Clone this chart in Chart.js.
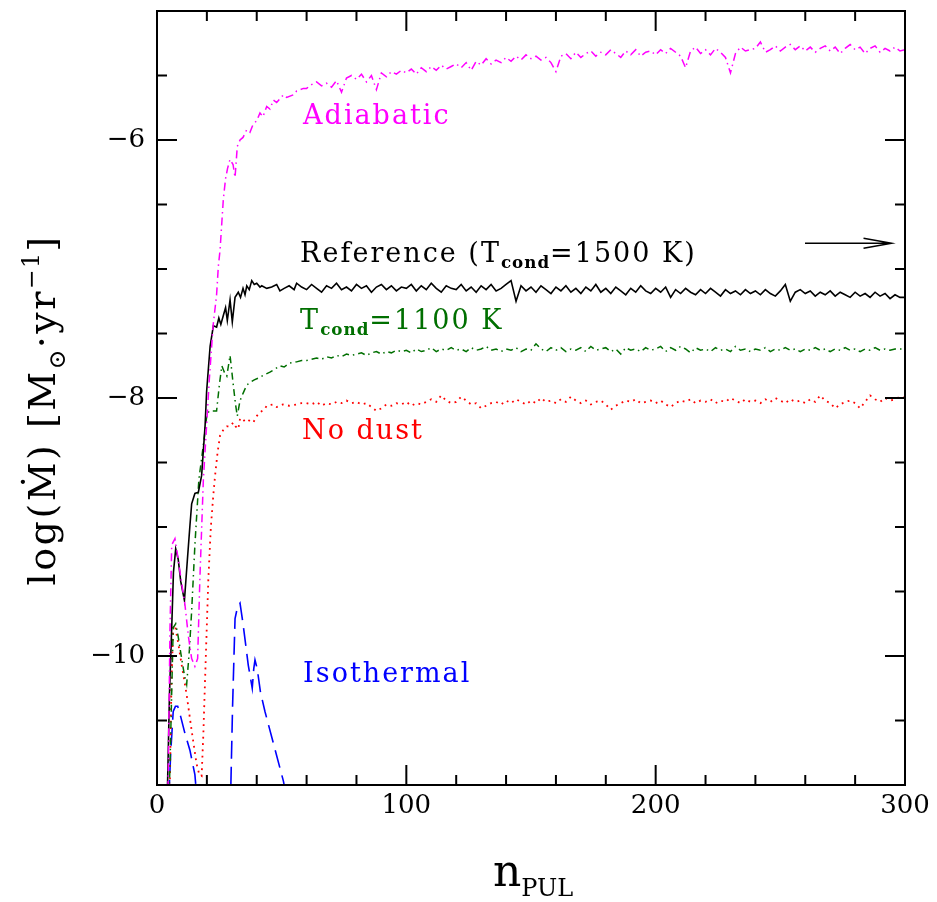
<!DOCTYPE html>
<html>
<head>
<meta charset="utf-8">
<script src="https://cdn.jsdelivr.net/npm/chart.js@4.4.1/dist/chart.umd.min.js"></script>
<style>
  body { margin: 0; background: #fff; }
  #wrap { width: 937px; height: 902px; }
</style>
</head>
<body>
<div id="wrap"><canvas id="massLoss" width="937" height="902"></canvas></div>
<script>
// early pulsations, read per curve
const refEarlyX = [4.0, 5.0, 5.9, 6.6, 7.5, 8.5, 9.5, 11.0, 12.2, 13.2, 13.9, 15.2, 16.6, 17.9, 19.3, 19.9, 21.3, 22.6, 23.9, 24.8, 25.6, 26.6, 27.5, 28.2, 29.3, 30.2, 31.3, 32.6, 33.5, 34.5, 35.3, 36, 37, 38, 39, 40, 41.3, 42, 44, 46, 48, 49.3, 51, 53, 55, 56, 58];
const refEarlyY = [-11.2, -10.3, -9.78, -9.35, -9.17, -9.25, -9.42, -9.57, -9.25, -8.99, -8.82, -8.74, -8.73, -8.6, -8.21, -7.95, -7.6, -7.44, -7.45, -7.38, -7.43, -7.36, -7.30, -7.40, -7.24, -7.41, -7.22, -7.18, -7.22, -7.15, -7.20, -7.13, -7.16, -7.09, -7.12, -7.11, -7.14, -7.13, -7.15, -7.14, -7.12, -7.17, -7.15, -7.13, -7.16, -7.11, -7.14];

const adiEarlyX = [4.0, 4.5, 5.2, 5.9, 7.2, 8.5, 10.0, 11.2, 12.6, 13.9, 15.2, 16.3, 17.2, 18.6, 19.9, 21.0, 22.5, 23.9, 24.6, 25.3, 26.6, 27.5, 28.3, 29.3, 30.5, 31.3, 32.2, 33.3, 34.5, 36, 37.3, 38.5, 40, 41.3, 42.5, 44, 45.3, 46.7, 48, 50.7, 52, 54.7, 56, 58.7];
const adiEarlyY = [-11.3, -10.94, -9.8, -9.14, -9.09, -9.25, -9.45, -9.6, -9.85, -10.02, -10.08, -10.02, -9.40, -8.63, -8.21, -7.85, -7.44, -7.2, -6.98, -6.85, -6.46, -6.30, -6.22, -6.15, -6.19, -6.29, -6.05, -6.0, -5.98, -5.92, -5.94, -5.88, -5.85, -5.79, -5.82, -5.74, -5.76, -5.69, -5.71, -5.65, -5.67, -5.65, -5.62, -5.60];

const condEarlyX = [4.6, 5.2, 6.5, 7.5, 8.5, 9.9, 11.0, 11.9, 13.0, 13.9, 15.2, 16.8, 17.9, 19.0, 20.0, 21.0, 22.5, 23.9, 25.0, 26, 27, 28, 29.3, 30.6, 31.5, 32.2, 33.3, 34.6, 36, 37.3, 39, 41.3, 43, 45.3, 47, 49.3, 51, 53, 56, 58];
const condEarlyY = [-11.2, -10.86, -9.78, -9.75, -9.85, -10.02, -10.15, -10.22, -9.95, -9.65, -9.14, -8.63, -8.47, -8.30, -8.13, -8.10, -8.10, -8.10, -7.90, -7.75, -7.80, -7.83, -7.67, -7.90, -8.05, -8.14, -8.02, -7.96, -7.90, -7.88, -7.86, -7.84, -7.82, -7.80, -7.78, -7.75, -7.76, -7.73, -7.72, -7.71];

const dustEarlyX = [5.0, 5.8, 6.5, 7.2, 8.5, 9.9, 11.9, 13.9, 15.9, 17.0, 17.9, 18.6, 19.3, 20.6, 21.6, 22.6, 23.3, 24.3, 25.3, 26.5, 28, 29.3, 30.6, 31.5, 32.6, 33.3, 34.5, 36, 37.3, 38.6, 40, 41.3, 43, 44, 46.7, 48, 50.5, 53, 56, 58];
const dustEarlyY = [-11.2, -10.2, -9.78, -9.76, -9.9, -10.07, -10.30, -10.58, -10.84, -10.92, -10.93, -10.6, -10.17, -9.40, -9.0, -8.75, -8.60, -8.42, -8.29, -8.25, -8.22, -8.22, -8.19, -8.22, -8.24, -8.16, -8.18, -8.16, -8.18, -8.19, -8.14, -8.11, -8.09, -8.06, -8.05, -8.07, -8.05, -8.06, -8.05, -8.04];

// isothermal never leaves the bottom for long; null = gap below the frame
const isoX = [4.3, 5.5, 6.5, 7.4, 8.3, 9.5, 11.2, 13.2, 15.2, 16.0, 20, 29.4, 30.3, 31.3, 32.3, 33.3, 34.5, 36.6, 38.2, 38.8, 39.3, 40.2, 41.5, 43.3, 47, 50.7, 52];
const isoY = [-11.3, -10.75, -10.43, -10.39, -10.39, -10.47, -10.6, -10.73, -10.92, -11.1, null, -11.2, -10.4, -9.71, -9.62, -9.59, -9.75, -10.07, -10.25, -10.1, -10.03, -10.1, -10.28, -10.43, -10.7, -10.97, -11.1];

// saturated part, one value every second pulsation
const nFlat = [60, 62, 64, 66, 68, 70, 72, 74, 76, 78, 80, 82, 84, 86, 88, 90, 92, 94, 96, 98,
  100, 102, 104, 106, 108, 110, 112, 114, 116, 118, 120, 122, 124, 126, 128, 130, 132, 134, 136, 138,
  140, 142, 144, 146, 148, 150, 152, 154, 156, 158, 160, 162, 164, 166, 168, 170, 172, 174, 176, 178,
  180, 182, 184, 186, 188, 190, 192, 194, 196, 198, 200, 202, 204, 206, 208, 210, 212, 214, 216, 218,
  220, 222, 224, 226, 228, 230, 232, 234, 236, 238, 240, 242, 244, 246, 248, 250, 252, 254, 256, 258,
  260, 262, 264, 266, 268, 270, 272, 274, 276, 278, 280, 282, 284, 286, 288, 290, 292, 294, 296, 298, 300];

const refFlat = [-7.16, -7.12, -7.15, -7.18, -7.13, -7.15, -7.11, -7.16, -7.14, -7.17,
  -7.12, -7.15, -7.13, -7.18, -7.14, -7.12, -7.16, -7.13, -7.17, -7.14,
  -7.15, -7.12, -7.17, -7.13, -7.16, -7.11, -7.15, -7.18, -7.13, -7.15,
  -7.16, -7.12, -7.17, -7.14, -7.18, -7.13, -7.16, -7.12, -7.17, -7.15,
  -7.12, -7.09, -7.25, -7.13, -7.17, -7.14, -7.18, -7.13, -7.16, -7.19,
  -7.14, -7.17, -7.13, -7.18, -7.15, -7.19, -7.14, -7.17, -7.12, -7.18,
  -7.15, -7.19, -7.14, -7.17, -7.20, -7.15, -7.18, -7.13, -7.17, -7.19,
  -7.15, -7.18, -7.14, -7.22, -7.16, -7.19, -7.15, -7.18, -7.20, -7.16,
  -7.19, -7.15, -7.18, -7.21, -7.16, -7.19, -7.17, -7.20, -7.16, -7.19,
  -7.17, -7.20, -7.16, -7.19, -7.21, -7.17, -7.12, -7.25, -7.18, -7.16,
  -7.19, -7.17, -7.21, -7.18, -7.20, -7.17, -7.21, -7.18, -7.20, -7.22,
  -7.18, -7.21, -7.19, -7.22, -7.18, -7.21, -7.19, -7.23, -7.20, -7.22, -7.22];

const adiFlat = [-5.60, -5.57, -5.55, -5.58, -5.56, -5.59, -5.54, -5.63, -5.52, -5.50,
  -5.53, -5.49, -5.55, -5.50, -5.61, -5.48, -5.51, -5.47, -5.49, -5.46,
  -5.48, -5.45, -5.49, -5.44, -5.47, -5.43, -5.46, -5.42, -5.45, -5.43,
  -5.41, -5.44, -5.40, -5.46, -5.39, -5.42, -5.37, -5.41, -5.38, -5.40,
  -5.36, -5.39, -5.35, -5.38, -5.34, -5.37, -5.35, -5.38, -5.36, -5.40,
  -5.47, -5.35, -5.33, -5.37, -5.32, -5.36, -5.33, -5.31, -5.35, -5.32,
  -5.34, -5.30, -5.33, -5.36, -5.31, -5.34, -5.30, -5.35, -5.32, -5.31,
  -5.34, -5.30, -5.33, -5.29, -5.32, -5.35, -5.44, -5.31, -5.28, -5.33,
  -5.30, -5.34, -5.29, -5.32, -5.36, -5.48, -5.33, -5.28, -5.31, -5.30,
  -5.29, -5.24, -5.32, -5.30, -5.27, -5.31, -5.28, -5.26, -5.30, -5.27,
  -5.31, -5.28, -5.32, -5.29, -5.27, -5.31, -5.28, -5.33, -5.29, -5.26,
  -5.30, -5.28, -5.33, -5.29, -5.27, -5.32, -5.29, -5.31, -5.28, -5.31, -5.30];

const condFlat = [-7.71, -7.70, -7.69, -7.70, -7.68, -7.69, -7.67, -7.68, -7.66, -7.67,
  -7.66, -7.65, -7.67, -7.65, -7.64, -7.66, -7.64, -7.65, -7.63, -7.64,
  -7.63, -7.65, -7.62, -7.64, -7.63, -7.61, -7.64, -7.62, -7.63, -7.61,
  -7.63, -7.62, -7.64, -7.61, -7.63, -7.62, -7.60, -7.63, -7.62, -7.64,
  -7.62, -7.63, -7.61, -7.64, -7.62, -7.63, -7.58, -7.62, -7.64, -7.61,
  -7.63, -7.61, -7.64, -7.62, -7.63, -7.61, -7.64, -7.60, -7.63, -7.62,
  -7.61, -7.64, -7.62, -7.66, -7.61, -7.63, -7.62, -7.64, -7.61, -7.63,
  -7.62, -7.60, -7.64, -7.61, -7.63, -7.60, -7.62, -7.65, -7.61, -7.63,
  -7.62, -7.64, -7.61, -7.63, -7.62, -7.64, -7.60, -7.63, -7.62, -7.64,
  -7.62, -7.63, -7.61, -7.64, -7.62, -7.63, -7.61, -7.63, -7.62, -7.64,
  -7.62, -7.63, -7.61, -7.63, -7.62, -7.64, -7.62, -7.63, -7.61, -7.63,
  -7.62, -7.64, -7.62, -7.63, -7.61, -7.63, -7.62, -7.63, -7.62, -7.62, -7.62];

const dustFlat = [-8.04, -8.05, -8.03, -8.06, -8.04, -8.05, -8.03, -8.04, -8.02, -8.04,
  -8.03, -8.05, -8.04, -8.07, -8.10, -8.08, -8.05, -8.06, -8.04, -8.05,
  -8.03, -8.06, -8.04, -8.05, -8.03, -8.01, -8.03, -7.98, -8.02, -8.04,
  -8.03, -7.99, -8.02, -8.05, -8.04, -8.08, -8.06, -8.04, -8.03, -8.05,
  -8.02, -8.04, -8.01, -8.03, -8.05, -8.02, -8.04, -8.00, -8.03, -8.02,
  -8.04, -8.01, -8.03, -7.99, -8.02, -8.04, -8.02, -8.05, -8.03, -8.02,
  -8.05, -8.09, -8.06, -8.04, -8.02, -8.03, -8.01, -8.04, -8.03, -8.02,
  -8.04, -8.02, -8.05, -8.07, -8.04, -8.02, -8.03, -8.01, -8.04, -8.02,
  -8.03, -8.01, -8.04, -8.02, -8.03, -8.00, -8.02, -8.04, -8.01, -8.03,
  -8.02, -8.04, -8.01, -8.03, -8.00, -8.02, -8.04, -8.01, -8.03, -8.02,
  -8.04, -8.01, -8.03, -7.98, -8.02, -8.04, -8.08, -8.05, -8.03, -8.02,
  -8.04, -8.08, -8.03, -7.98, -8.01, -8.03, -8.00, -8.02, -8.01, -7.99, -8.00];

const xTickLabels = [0, 100, 200, 300];
const yTickLabels = [-10, -8, -6];

// curve labels, anchored in data units
const curveLabels = [
  { x: 58.6, y: -5.82, color: "#ff00ff", parts: [["Adiabatic"]] },
  { x: 57.4, y: -6.89, color: "#000000", parts: [["Reference (T"], ["cond", "sub"], ["=1500 K)"]] },
  { x: 57.4, y: -7.41, color: "#006f00", parts: [["T"], ["cond", "sub"], ["=1100 K"]] },
  { x: 58.2, y: -8.26, color: "#ff0000", parts: [["No dust"]] },
  { x: 58.6, y: -10.15, color: "#0000ff", parts: [["Isothermal"]] }
];
const arrowX = [259.9, 294.6];
const arrowY = -6.8;

function pts(xs, ys) {
  return xs.map((x, i) => ({ x: x, y: ys[i] }));
}

const SERIF = "'DejaVu Serif', 'Liberation Serif', serif";
const LABEL_SIZE = 27;

function drawRich(ctx, parts, x, y, size, spacing) {
  let cx = x;
  parts.forEach(p => {
    let s = size, dy = 0, weight = "";
    if (p[1] === "sub") { s = size * 0.62; dy = size * 0.32; weight = "bold "; }
    if (p[1] === "subn") { s = size * 0.62; dy = size * 0.25; }
    if (p[1] === "sup") { s = size * 0.62; dy = -size * 0.42; }
    ctx.font = weight + s + "px " + SERIF;
    ctx.letterSpacing = (p[1] ? spacing * 0.5 : spacing) + "px";
    ctx.fillText(p[0], cx, y + dy);
    cx += ctx.measureText(p[0]).width;
  });
  ctx.letterSpacing = "0px";
  return cx - x;
}

function richWidth(ctx, parts, size, spacing) {
  let w = 0;
  parts.forEach(p => {
    const s = p[1] ? size * 0.62 : size;
    ctx.font = (p[1] === "sub" ? "bold " : "") + s + "px " + SERIF;
    ctx.letterSpacing = (p[1] ? spacing * 0.5 : spacing) + "px";
    w += ctx.measureText(p[0]).width;
  });
  ctx.letterSpacing = "0px";
  return w;
}

const framePlugin = {
  id: "frame",
  afterDraw(chart) {
    const ctx = chart.ctx;
    const xs = chart.scales.x, ys = chart.scales.y;
    const a = chart.chartArea;
    ctx.save();
    ctx.strokeStyle = "#000";
    ctx.lineWidth = 2;
    ctx.strokeRect(a.left, a.top, a.right - a.left, a.bottom - a.top);

    // inward ticks on all four sides
    ctx.beginPath();
    for (let v = 0; v <= 300; v += 20) {
      const px = xs.getPixelForValue(v);
      const len = v % 100 === 0 ? 20 : 10;
      ctx.moveTo(px, a.bottom); ctx.lineTo(px, a.bottom - len);
      ctx.moveTo(px, a.top); ctx.lineTo(px, a.top + len);
    }
    for (let v = -11; v <= -5; v += 0.5) {
      const py = ys.getPixelForValue(v);
      const len = v % 2 === 0 ? 20 : 10;
      ctx.moveTo(a.left, py); ctx.lineTo(a.left + len, py);
      ctx.moveTo(a.right, py); ctx.lineTo(a.right - len, py);
    }
    ctx.stroke();

    // arrow pointing off the right edge
    const ax0 = xs.getPixelForValue(arrowX[0]);
    const ax1 = xs.getPixelForValue(arrowX[1]);
    const ay = ys.getPixelForValue(arrowY);
    ctx.lineWidth = 1.5;
    ctx.beginPath();
    ctx.moveTo(ax0, ay); ctx.lineTo(ax1, ay);
    ctx.moveTo(ax1 - 28, ay - 5); ctx.lineTo(ax1, ay); ctx.lineTo(ax1 - 28, ay + 5);
    ctx.stroke();

    // curve labels
    ctx.textBaseline = "middle";
    ctx.textAlign = "left";
    curveLabels.forEach(l => {
      ctx.fillStyle = l.color;
      drawRich(ctx, l.parts, xs.getPixelForValue(l.x), ys.getPixelForValue(l.y), LABEL_SIZE, 2);
    });

    // axis titles
    ctx.fillStyle = "#000";
    ctx.textBaseline = "alphabetic";
    ctx.font = "44px " + SERIF;
    const nW = ctx.measureText("n").width;
    ctx.font = "24px " + SERIF;
    const pW = ctx.measureText("PUL").width;
    const xc = (a.left + a.right) / 2 + 2;
    const x0 = xc - (nW + pW) / 2;
    ctx.font = "44px " + SERIF;
    ctx.fillText("n", x0, 886);
    ctx.font = "24px " + SERIF;
    ctx.fillText("PUL", x0 + nW, 896);

    const yt = [["log(Ṁ) [M"], ["⊙", "subn"], ["·yr"], ["−1", "sup"], ["]"]];
    const ysz = 38, ysp = 2.5;
    const w = richWidth(ctx, yt, ysz, ysp);
    ctx.translate(55, 410);
    ctx.rotate(-Math.PI / 2);
    drawRich(ctx, yt, -w / 2, 0, ysz, ysp);
    ctx.restore();
  }
};

const ctx = document.getElementById("massLoss").getContext("2d");
new Chart(ctx, {
  type: "line",
  data: {
    datasets: [
      {
        label: "Adiabatic",
        data: pts(adiEarlyX, adiEarlyY).concat(pts(nFlat, adiFlat)),
        borderColor: "#ff00ff",
        borderWidth: 1.5,
        borderDash: [8, 4, 1.5, 4]
      },
      {
        label: "Reference",
        data: pts(refEarlyX, refEarlyY).concat(pts(nFlat, refFlat)),
        borderColor: "#000000",
        borderWidth: 1.6
      },
      {
        label: "Tcond=1100 K",
        data: pts(condEarlyX, condEarlyY).concat(pts(nFlat, condFlat)),
        borderColor: "#006f00",
        borderWidth: 1.5,
        borderDash: [7, 4, 1.5, 4]
      },
      {
        label: "No dust",
        data: pts(dustEarlyX, dustEarlyY).concat(pts(nFlat, dustFlat)),
        borderColor: "#ff0000",
        borderWidth: 1.8,
        borderDash: [1.8, 4.5]
      },
      {
        label: "Isothermal",
        data: pts(isoX, isoY),
        borderColor: "#0000ff",
        borderWidth: 1.6,
        borderDash: [18, 8]
      }
    ]
  },
  options: {
    responsive: false,
    animation: false,
    layout: { padding: { left: 0, top: 11, right: 32, bottom: 0 } },
    elements: { point: { radius: 0 }, line: { tension: 0 } },
    plugins: { legend: { display: false }, tooltip: { enabled: false } },
    scales: {
      x: {
        type: "linear",
        min: 0,
        max: 300,
        grid: { display: false, drawTicks: false },
        border: { display: false },
        afterFit(scale) {
          scale.height = 117;
          scale.paddingLeft = 0; scale.paddingRight = 0;
        },
        afterBuildTicks(scale) { scale.ticks = xTickLabels.map(v => ({ value: v })); },
        ticks: {
          color: "#000",
          padding: 6,
          font: { family: SERIF, size: 26 },
          callback: v => String(v)
        }
      },
      y: {
        type: "linear",
        min: -11,
        max: -5,
        grid: { display: false, drawTicks: false },
        border: { display: false },
        afterFit(scale) {
          scale.width = 157;
          scale.paddingTop = 0; scale.paddingBottom = 0;
        },
        afterBuildTicks(scale) { scale.ticks = yTickLabels.map(v => ({ value: v })); },
        ticks: {
          color: "#000",
          padding: 12,
          font: { family: SERIF, size: 26 },
          callback: v => (v < 0 ? "\u2212" : "") + Math.abs(v)
        }
      }
    }
  },
  plugins: [framePlugin]
});
</script>
</body>
</html>
